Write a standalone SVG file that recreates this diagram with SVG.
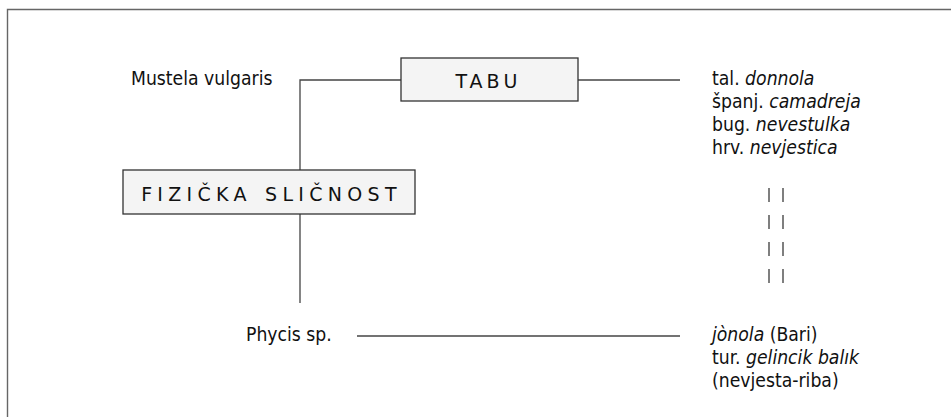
<svg xmlns="http://www.w3.org/2000/svg" width="951" height="417" viewBox="0 0 951 417">
<style>
.t{font-family:"DejaVu Sans Condensed","DejaVu Sans","Liberation Sans",sans-serif;font-stretch:condensed;font-size:19.2px;fill:#111}
.b{font-family:"DejaVu Sans","Liberation Sans",sans-serif;font-size:19px;fill:#111;text-anchor:middle}
.box{fill:#f4f4f4;stroke:#333;stroke-width:1.3}
.ln{stroke:#444;stroke-width:1.3;fill:none}
.d{stroke:#555;stroke-width:1.5}
</style>
<rect width="951" height="417" fill="#fff"/>
<path d="M7.5,417 V9.5 H951" fill="none" stroke="#666" stroke-width="1.4"/>
<g id="connectors">
<path class="ln" d="M300,303 V80 H401"/>
<path class="ln" d="M578,80 H680"/>
<path class="ln" d="M357,336 H680"/>
<g class="d">
<path d="M769,188v14M783,188v14M769,215v14M783,215v14M769,242v14M783,242v14M769,269v14M783,269v14"/>
</g>
</g>
<g id="mustela"><text class="t" x="131" y="85">Mustela vulgaris</text></g>
<g id="tabu"><rect class="box" x="401" y="58" width="177" height="43"/><text class="b" x="488.5" y="88" letter-spacing="4">TABU</text></g>
<g id="fizicka"><rect class="box" x="123" y="170" width="292" height="44"/><text class="b" x="271.5" y="201" letter-spacing="5.3" word-spacing="2">FIZIČKA SLIČNOST</text></g>
<g id="names1">
<text class="t" x="712" y="85">tal. <tspan font-style="italic">donnola</tspan></text>
<text class="t" x="712" y="108">španj. <tspan font-style="italic">camadreja</tspan></text>
<text class="t" x="712" y="131">bug. <tspan font-style="italic">nevestulka</tspan></text>
<text class="t" x="712" y="154">hrv. <tspan font-style="italic">nevjestica</tspan></text>
</g>
<g id="phycis"><text class="t" x="246" y="341">Phycis sp.</text></g>
<g id="names2">
<text class="t" x="712" y="341"><tspan font-style="italic">jònola</tspan> (Bari)</text>
<text class="t" x="712" y="364">tur. <tspan font-style="italic">gelincik balık</tspan></text>
<text class="t" x="712" y="387">(nevjesta-riba)</text>
</g>
</svg>
